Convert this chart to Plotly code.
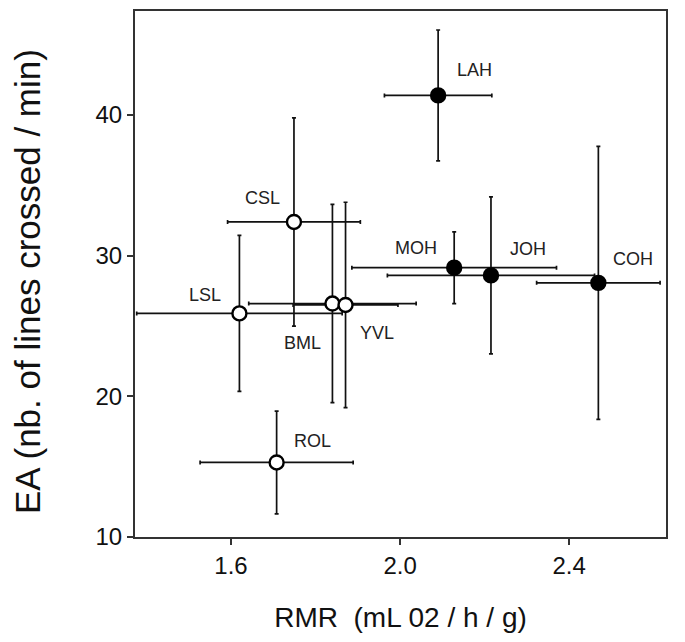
import plotly.graph_objects as go

# Data
populations = ["LAH", "CSL", "LSL", "BML", "YVL", "ROL", "MOH", "JOH", "COH"]
rmr = [2.090, 1.749, 1.620, 1.840, 1.871, 1.708, 2.128, 2.215, 2.469]
rmr_err = [0.127, 0.157, 0.243, 0.198, 0.124, 0.181, 0.242, 0.245, 0.146]
ea = [41.4, 32.4, 25.9, 26.6, 26.5, 15.3, 29.15, 28.6, 28.07]
ea_err = [4.65, 7.4, 5.55, 7.05, 7.3, 3.65, 2.55, 5.58, 9.71]
filled = [True, False, False, False, False, False, True, True, True]

x_ticks = [1.6, 2.0, 2.4]
y_ticks = [10, 20, 30, 40]

# label offsets (pixels) -- styling only
label_shift = {
    "LAH": (36, 25), "CSL": (-31, 24), "LSL": (-34, 18), "BML": (-30, -39),
    "YVL": (31, -28), "ROL": (36, 21), "MOH": (-38, 20), "JOH": (37, 26),
    "COH": (35, 24),
}

FONT = "Liberation Sans, Arial, sans-serif"

fig = go.Figure()

for is_filled in (True, False):
    idx = [i for i, f in enumerate(filled) if f == is_filled]
    fig.add_trace(go.Scatter(
        x=[rmr[i] for i in idx],
        y=[ea[i] for i in idx],
        mode="markers",
        marker=dict(size=14, color="black" if is_filled else "white",
                    line=dict(color="black", width=2.4)),
        error_x=dict(type="data", array=[rmr_err[i] for i in idx],
                     color="#111", thickness=1.7, width=2),
        error_y=dict(type="data", array=[ea_err[i] for i in idx],
                     color="#111", thickness=1.7, width=2),
        showlegend=False,
        hoverinfo="skip",
    ))

for name, x, y in zip(populations, rmr, ea):
    dx, dy = label_shift[name]
    fig.add_annotation(x=x, y=y, text=name, showarrow=False,
                       xshift=dx, yshift=dy,
                       font=dict(family=FONT, size=18, color="#222"))

# y-axis title as a rotated annotation for precise placement
fig.add_annotation(xref="paper", yref="paper", x=0, y=0.5,
                   xanchor="center", yanchor="middle",
                   xshift=-108, yshift=-8, textangle=-90, showarrow=False,
                   text="EA (nb. of lines crossed / min)",
                   font=dict(family=FONT, size=35, color="#111"))

axis_common = dict(
    showline=True, linecolor="#333", linewidth=2, mirror=True,
    ticks="outside", ticklen=6, tickcolor="#333", tickwidth=1.5,
    showgrid=False, zeroline=False,
    tickfont=dict(family=FONT, size=24, color="#111"),
)

fig.update_layout(
    width=685, height=642,
    margin=dict(l=127, r=27, t=1, b=113),
    plot_bgcolor="white", paper_bgcolor="white",
    xaxis=dict(range=[1.373, 2.629], tickvals=x_ticks,
               ticktext=[f"{v:.1f}" for v in x_ticks],
               title=dict(text="RMR  (mL 02 / h / g)", standoff=30,
                          font=dict(family=FONT, size=28, color="#111")),
               **axis_common),
    yaxis=dict(range=[10, 47.4], tickvals=y_ticks,
               **axis_common),
)

fig.write_html("out.html")
